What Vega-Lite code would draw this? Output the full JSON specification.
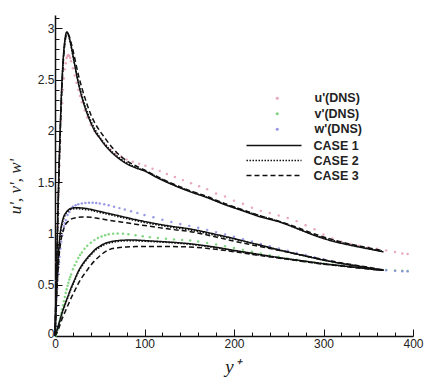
{
  "$schema": "https://vega.github.io/schema/vega-lite/v6.json",
  "width": 358,
  "height": 321,
  "autosize": "none",
  "padding": {"left": 55, "top": 15, "right": 12, "bottom": 49},
  "background": "white",
  "config": {"view": {"stroke": null}, "font": "Liberation Sans"},
  "datasets": {
    "dns": [
      {"s":"u'(DNS)","x":0.5,"y":0.18},{"s":"u'(DNS)","x":1,"y":0.36},{"s":"u'(DNS)","x":1.5,"y":0.54},{"s":"u'(DNS)","x":2,"y":0.72},{"s":"u'(DNS)","x":2.5,"y":0.9},{"s":"u'(DNS)","x":3,"y":1.07},{"s":"u'(DNS)","x":3.5,"y":1.23},{"s":"u'(DNS)","x":4,"y":1.38},{"s":"u'(DNS)","x":4.5,"y":1.53},{"s":"u'(DNS)","x":5,"y":1.66},{"s":"u'(DNS)","x":5.5,"y":1.79},{"s":"u'(DNS)","x":6,"y":1.9},{"s":"u'(DNS)","x":7,"y":2.1},{"s":"u'(DNS)","x":8,"y":2.27},{"s":"u'(DNS)","x":9,"y":2.4},{"s":"u'(DNS)","x":10,"y":2.51},{"s":"u'(DNS)","x":11,"y":2.6},{"s":"u'(DNS)","x":12,"y":2.66},{"s":"u'(DNS)","x":13,"y":2.71},{"s":"u'(DNS)","x":14,"y":2.73},{"s":"u'(DNS)","x":15,"y":2.74},{"s":"u'(DNS)","x":16,"y":2.73},{"s":"u'(DNS)","x":17,"y":2.71},{"s":"u'(DNS)","x":18,"y":2.68},{"s":"u'(DNS)","x":20,"y":2.61},{"s":"u'(DNS)","x":22,"y":2.54},{"s":"u'(DNS)","x":24,"y":2.47},{"s":"u'(DNS)","x":26,"y":2.4},{"s":"u'(DNS)","x":28,"y":2.34},{"s":"u'(DNS)","x":30,"y":2.28},{"s":"u'(DNS)","x":33,"y":2.2},{"s":"u'(DNS)","x":36,"y":2.13},{"s":"u'(DNS)","x":40,"y":2.06},{"s":"u'(DNS)","x":44,"y":2.0},{"s":"u'(DNS)","x":48,"y":1.95},{"s":"u'(DNS)","x":52,"y":1.91},{"s":"u'(DNS)","x":57,"y":1.86},{"s":"u'(DNS)","x":62,"y":1.82},{"s":"u'(DNS)","x":68,"y":1.78},{"s":"u'(DNS)","x":74,"y":1.75},{"s":"u'(DNS)","x":80,"y":1.72},{"s":"u'(DNS)","x":87,"y":1.7},{"s":"u'(DNS)","x":94,"y":1.68},{"s":"u'(DNS)","x":101,"y":1.66},{"s":"u'(DNS)","x":109,"y":1.63},{"s":"u'(DNS)","x":117,"y":1.61},{"s":"u'(DNS)","x":125,"y":1.58},{"s":"u'(DNS)","x":134,"y":1.55},{"s":"u'(DNS)","x":143,"y":1.52},{"s":"u'(DNS)","x":152,"y":1.49},{"s":"u'(DNS)","x":161,"y":1.46},{"s":"u'(DNS)","x":170,"y":1.43},{"s":"u'(DNS)","x":180,"y":1.39},{"s":"u'(DNS)","x":190,"y":1.36},{"s":"u'(DNS)","x":200,"y":1.32},{"s":"u'(DNS)","x":210,"y":1.29},{"s":"u'(DNS)","x":220,"y":1.25},{"s":"u'(DNS)","x":230,"y":1.22},{"s":"u'(DNS)","x":240,"y":1.2},{"s":"u'(DNS)","x":250,"y":1.175},{"s":"u'(DNS)","x":260,"y":1.15},{"s":"u'(DNS)","x":270,"y":1.12},{"s":"u'(DNS)","x":280,"y":1.08},{"s":"u'(DNS)","x":290,"y":1.04},{"s":"u'(DNS)","x":300,"y":0.99},{"s":"u'(DNS)","x":310,"y":0.95},{"s":"u'(DNS)","x":320,"y":0.92},{"s":"u'(DNS)","x":330,"y":0.9},{"s":"u'(DNS)","x":340,"y":0.88},{"s":"u'(DNS)","x":350,"y":0.865},{"s":"u'(DNS)","x":360,"y":0.85},{"s":"u'(DNS)","x":370,"y":0.835},{"s":"u'(DNS)","x":380,"y":0.82},{"s":"u'(DNS)","x":388,"y":0.805},{"s":"u'(DNS)","x":394,"y":0.8},
      {"s":"v'(DNS)","x":0.5,"y":0.003},{"s":"v'(DNS)","x":1,"y":0.008},{"s":"v'(DNS)","x":2,"y":0.03},{"s":"v'(DNS)","x":3,"y":0.06},{"s":"v'(DNS)","x":4,"y":0.1},{"s":"v'(DNS)","x":5,"y":0.14},{"s":"v'(DNS)","x":6,"y":0.18},{"s":"v'(DNS)","x":7,"y":0.22},{"s":"v'(DNS)","x":8,"y":0.26},{"s":"v'(DNS)","x":9,"y":0.3},{"s":"v'(DNS)","x":10,"y":0.34},{"s":"v'(DNS)","x":11,"y":0.38},{"s":"v'(DNS)","x":12,"y":0.42},{"s":"v'(DNS)","x":13,"y":0.455},{"s":"v'(DNS)","x":14,"y":0.49},{"s":"v'(DNS)","x":15,"y":0.52},{"s":"v'(DNS)","x":16,"y":0.55},{"s":"v'(DNS)","x":17,"y":0.575},{"s":"v'(DNS)","x":18,"y":0.6},{"s":"v'(DNS)","x":20,"y":0.65},{"s":"v'(DNS)","x":22,"y":0.69},{"s":"v'(DNS)","x":24,"y":0.725},{"s":"v'(DNS)","x":26,"y":0.76},{"s":"v'(DNS)","x":28,"y":0.79},{"s":"v'(DNS)","x":30,"y":0.815},{"s":"v'(DNS)","x":33,"y":0.85},{"s":"v'(DNS)","x":36,"y":0.88},{"s":"v'(DNS)","x":40,"y":0.91},{"s":"v'(DNS)","x":44,"y":0.935},{"s":"v'(DNS)","x":48,"y":0.955},{"s":"v'(DNS)","x":52,"y":0.97},{"s":"v'(DNS)","x":56,"y":0.983},{"s":"v'(DNS)","x":60,"y":0.992},{"s":"v'(DNS)","x":65,"y":0.998},{"s":"v'(DNS)","x":70,"y":1.0},{"s":"v'(DNS)","x":76,"y":0.998},{"s":"v'(DNS)","x":82,"y":0.993},{"s":"v'(DNS)","x":90,"y":0.983},{"s":"v'(DNS)","x":98,"y":0.973},{"s":"v'(DNS)","x":106,"y":0.964},{"s":"v'(DNS)","x":115,"y":0.955},{"s":"v'(DNS)","x":124,"y":0.948},{"s":"v'(DNS)","x":133,"y":0.942},{"s":"v'(DNS)","x":142,"y":0.937},{"s":"v'(DNS)","x":151,"y":0.932},{"s":"v'(DNS)","x":160,"y":0.922},{"s":"v'(DNS)","x":170,"y":0.908},{"s":"v'(DNS)","x":180,"y":0.892},{"s":"v'(DNS)","x":190,"y":0.875},{"s":"v'(DNS)","x":200,"y":0.858},{"s":"v'(DNS)","x":210,"y":0.84},{"s":"v'(DNS)","x":220,"y":0.822},{"s":"v'(DNS)","x":230,"y":0.805},{"s":"v'(DNS)","x":240,"y":0.788},{"s":"v'(DNS)","x":250,"y":0.772},{"s":"v'(DNS)","x":260,"y":0.757},{"s":"v'(DNS)","x":270,"y":0.743},{"s":"v'(DNS)","x":280,"y":0.73},{"s":"v'(DNS)","x":290,"y":0.718},{"s":"v'(DNS)","x":300,"y":0.707},{"s":"v'(DNS)","x":310,"y":0.697},{"s":"v'(DNS)","x":320,"y":0.687},{"s":"v'(DNS)","x":330,"y":0.677},{"s":"v'(DNS)","x":340,"y":0.668},{"s":"v'(DNS)","x":350,"y":0.66},{"s":"v'(DNS)","x":360,"y":0.652},{"s":"v'(DNS)","x":370,"y":0.645},{"s":"v'(DNS)","x":380,"y":0.64},{"s":"v'(DNS)","x":388,"y":0.636},{"s":"v'(DNS)","x":394,"y":0.635},
      {"s":"w'(DNS)","x":0.5,"y":0.1},{"s":"w'(DNS)","x":1,"y":0.2},{"s":"w'(DNS)","x":1.5,"y":0.29},{"s":"w'(DNS)","x":2,"y":0.38},{"s":"w'(DNS)","x":2.5,"y":0.46},{"s":"w'(DNS)","x":3,"y":0.54},{"s":"w'(DNS)","x":3.5,"y":0.61},{"s":"w'(DNS)","x":4,"y":0.67},{"s":"w'(DNS)","x":4.5,"y":0.72},{"s":"w'(DNS)","x":5,"y":0.77},{"s":"w'(DNS)","x":6,"y":0.85},{"s":"w'(DNS)","x":7,"y":0.92},{"s":"w'(DNS)","x":8,"y":0.98},{"s":"w'(DNS)","x":9,"y":1.03},{"s":"w'(DNS)","x":10,"y":1.07},{"s":"w'(DNS)","x":11,"y":1.1},{"s":"w'(DNS)","x":12,"y":1.13},{"s":"w'(DNS)","x":14,"y":1.18},{"s":"w'(DNS)","x":16,"y":1.21},{"s":"w'(DNS)","x":18,"y":1.24},{"s":"w'(DNS)","x":20,"y":1.26},{"s":"w'(DNS)","x":23,"y":1.275},{"s":"w'(DNS)","x":26,"y":1.285},{"s":"w'(DNS)","x":30,"y":1.292},{"s":"w'(DNS)","x":34,"y":1.297},{"s":"w'(DNS)","x":38,"y":1.3},{"s":"w'(DNS)","x":42,"y":1.3},{"s":"w'(DNS)","x":46,"y":1.297},{"s":"w'(DNS)","x":50,"y":1.292},{"s":"w'(DNS)","x":55,"y":1.284},{"s":"w'(DNS)","x":60,"y":1.274},{"s":"w'(DNS)","x":66,"y":1.261},{"s":"w'(DNS)","x":72,"y":1.247},{"s":"w'(DNS)","x":78,"y":1.233},{"s":"w'(DNS)","x":85,"y":1.217},{"s":"w'(DNS)","x":92,"y":1.2},{"s":"w'(DNS)","x":100,"y":1.18},{"s":"w'(DNS)","x":110,"y":1.157},{"s":"w'(DNS)","x":120,"y":1.134},{"s":"w'(DNS)","x":130,"y":1.112},{"s":"w'(DNS)","x":140,"y":1.092},{"s":"w'(DNS)","x":150,"y":1.074},{"s":"w'(DNS)","x":160,"y":1.055},{"s":"w'(DNS)","x":170,"y":1.035},{"s":"w'(DNS)","x":180,"y":1.013},{"s":"w'(DNS)","x":190,"y":0.99},{"s":"w'(DNS)","x":200,"y":0.967},{"s":"w'(DNS)","x":210,"y":0.944},{"s":"w'(DNS)","x":220,"y":0.921},{"s":"w'(DNS)","x":230,"y":0.898},{"s":"w'(DNS)","x":240,"y":0.876},{"s":"w'(DNS)","x":250,"y":0.854},{"s":"w'(DNS)","x":260,"y":0.832},{"s":"w'(DNS)","x":270,"y":0.81},{"s":"w'(DNS)","x":280,"y":0.789},{"s":"w'(DNS)","x":290,"y":0.768},{"s":"w'(DNS)","x":300,"y":0.748},{"s":"w'(DNS)","x":310,"y":0.728},{"s":"w'(DNS)","x":320,"y":0.709},{"s":"w'(DNS)","x":330,"y":0.692},{"s":"w'(DNS)","x":340,"y":0.676},{"s":"w'(DNS)","x":350,"y":0.662},{"s":"w'(DNS)","x":360,"y":0.65},{"s":"w'(DNS)","x":370,"y":0.641},{"s":"w'(DNS)","x":380,"y":0.635},{"s":"w'(DNS)","x":388,"y":0.632},{"s":"w'(DNS)","x":394,"y":0.63}
    ],
    "model": [
      {"q":"u","c":"CASE 1","x":0,"y":0},{"q":"u","c":"CASE 1","x":1,"y":0.38},{"q":"u","c":"CASE 1","x":2,"y":0.76},{"q":"u","c":"CASE 1","x":3,"y":1.13},{"q":"u","c":"CASE 1","x":4,"y":1.48},{"q":"u","c":"CASE 1","x":5,"y":1.8},{"q":"u","c":"CASE 1","x":6,"y":2.08},{"q":"u","c":"CASE 1","x":7,"y":2.32},{"q":"u","c":"CASE 1","x":8,"y":2.52},{"q":"u","c":"CASE 1","x":9,"y":2.68},{"q":"u","c":"CASE 1","x":10,"y":2.8},{"q":"u","c":"CASE 1","x":11,"y":2.88},{"q":"u","c":"CASE 1","x":12,"y":2.94},{"q":"u","c":"CASE 1","x":13,"y":2.965},{"q":"u","c":"CASE 1","x":14,"y":2.96},{"q":"u","c":"CASE 1","x":15,"y":2.94},{"q":"u","c":"CASE 1","x":16,"y":2.91},{"q":"u","c":"CASE 1","x":18,"y":2.83},{"q":"u","c":"CASE 1","x":20,"y":2.74},{"q":"u","c":"CASE 1","x":23,"y":2.6},{"q":"u","c":"CASE 1","x":26,"y":2.47},{"q":"u","c":"CASE 1","x":30,"y":2.33},{"q":"u","c":"CASE 1","x":35,"y":2.19},{"q":"u","c":"CASE 1","x":40,"y":2.08},{"q":"u","c":"CASE 1","x":45,"y":1.99},{"q":"u","c":"CASE 1","x":50,"y":1.93},{"q":"u","c":"CASE 1","x":55,"y":1.87},{"q":"u","c":"CASE 1","x":60,"y":1.82},{"q":"u","c":"CASE 1","x":70,"y":1.74},{"q":"u","c":"CASE 1","x":80,"y":1.68},{"q":"u","c":"CASE 1","x":90,"y":1.64},{"q":"u","c":"CASE 1","x":100,"y":1.61},{"q":"u","c":"CASE 1","x":115,"y":1.54},{"q":"u","c":"CASE 1","x":130,"y":1.48},{"q":"u","c":"CASE 1","x":150,"y":1.41},{"q":"u","c":"CASE 1","x":170,"y":1.35},{"q":"u","c":"CASE 1","x":190,"y":1.28},{"q":"u","c":"CASE 1","x":210,"y":1.22},{"q":"u","c":"CASE 1","x":230,"y":1.16},{"q":"u","c":"CASE 1","x":250,"y":1.115},{"q":"u","c":"CASE 1","x":270,"y":1.05},{"q":"u","c":"CASE 1","x":290,"y":0.98},{"q":"u","c":"CASE 1","x":310,"y":0.925},{"q":"u","c":"CASE 1","x":330,"y":0.885},{"q":"u","c":"CASE 1","x":350,"y":0.85},{"q":"u","c":"CASE 1","x":367,"y":0.82},
      {"q":"u","c":"CASE 2","x":0,"y":0},{"q":"u","c":"CASE 2","x":1,"y":0.37},{"q":"u","c":"CASE 2","x":2,"y":0.74},{"q":"u","c":"CASE 2","x":3,"y":1.1},{"q":"u","c":"CASE 2","x":4,"y":1.45},{"q":"u","c":"CASE 2","x":5,"y":1.77},{"q":"u","c":"CASE 2","x":6,"y":2.05},{"q":"u","c":"CASE 2","x":7,"y":2.3},{"q":"u","c":"CASE 2","x":8,"y":2.5},{"q":"u","c":"CASE 2","x":9,"y":2.66},{"q":"u","c":"CASE 2","x":10,"y":2.78},{"q":"u","c":"CASE 2","x":11,"y":2.87},{"q":"u","c":"CASE 2","x":12,"y":2.93},{"q":"u","c":"CASE 2","x":13,"y":2.95},{"q":"u","c":"CASE 2","x":14,"y":2.95},{"q":"u","c":"CASE 2","x":15,"y":2.93},{"q":"u","c":"CASE 2","x":16,"y":2.9},{"q":"u","c":"CASE 2","x":18,"y":2.82},{"q":"u","c":"CASE 2","x":20,"y":2.73},{"q":"u","c":"CASE 2","x":23,"y":2.6},{"q":"u","c":"CASE 2","x":26,"y":2.48},{"q":"u","c":"CASE 2","x":30,"y":2.35},{"q":"u","c":"CASE 2","x":35,"y":2.21},{"q":"u","c":"CASE 2","x":40,"y":2.1},{"q":"u","c":"CASE 2","x":45,"y":2.01},{"q":"u","c":"CASE 2","x":50,"y":1.94},{"q":"u","c":"CASE 2","x":60,"y":1.83},{"q":"u","c":"CASE 2","x":70,"y":1.75},{"q":"u","c":"CASE 2","x":80,"y":1.69},{"q":"u","c":"CASE 2","x":90,"y":1.645},{"q":"u","c":"CASE 2","x":100,"y":1.61},{"q":"u","c":"CASE 2","x":130,"y":1.485},{"q":"u","c":"CASE 2","x":170,"y":1.35},{"q":"u","c":"CASE 2","x":210,"y":1.225},{"q":"u","c":"CASE 2","x":250,"y":1.115},{"q":"u","c":"CASE 2","x":290,"y":0.985},{"q":"u","c":"CASE 2","x":330,"y":0.89},{"q":"u","c":"CASE 2","x":367,"y":0.825},
      {"q":"u","c":"CASE 3","x":0,"y":0},{"q":"u","c":"CASE 3","x":1,"y":0.36},{"q":"u","c":"CASE 3","x":2,"y":0.72},{"q":"u","c":"CASE 3","x":3,"y":1.07},{"q":"u","c":"CASE 3","x":4,"y":1.41},{"q":"u","c":"CASE 3","x":5,"y":1.72},{"q":"u","c":"CASE 3","x":6,"y":2.0},{"q":"u","c":"CASE 3","x":7,"y":2.25},{"q":"u","c":"CASE 3","x":8,"y":2.46},{"q":"u","c":"CASE 3","x":9,"y":2.63},{"q":"u","c":"CASE 3","x":10,"y":2.76},{"q":"u","c":"CASE 3","x":11,"y":2.85},{"q":"u","c":"CASE 3","x":12,"y":2.91},{"q":"u","c":"CASE 3","x":13,"y":2.94},{"q":"u","c":"CASE 3","x":14,"y":2.95},{"q":"u","c":"CASE 3","x":15,"y":2.94},{"q":"u","c":"CASE 3","x":16,"y":2.92},{"q":"u","c":"CASE 3","x":18,"y":2.86},{"q":"u","c":"CASE 3","x":20,"y":2.79},{"q":"u","c":"CASE 3","x":23,"y":2.67},{"q":"u","c":"CASE 3","x":26,"y":2.55},{"q":"u","c":"CASE 3","x":30,"y":2.42},{"q":"u","c":"CASE 3","x":35,"y":2.28},{"q":"u","c":"CASE 3","x":40,"y":2.16},{"q":"u","c":"CASE 3","x":45,"y":2.07},{"q":"u","c":"CASE 3","x":50,"y":2.0},{"q":"u","c":"CASE 3","x":55,"y":1.94},{"q":"u","c":"CASE 3","x":60,"y":1.88},{"q":"u","c":"CASE 3","x":70,"y":1.78},{"q":"u","c":"CASE 3","x":80,"y":1.71},{"q":"u","c":"CASE 3","x":90,"y":1.66},{"q":"u","c":"CASE 3","x":100,"y":1.62},{"q":"u","c":"CASE 3","x":115,"y":1.55},{"q":"u","c":"CASE 3","x":130,"y":1.49},{"q":"u","c":"CASE 3","x":150,"y":1.42},{"q":"u","c":"CASE 3","x":170,"y":1.36},{"q":"u","c":"CASE 3","x":190,"y":1.29},{"q":"u","c":"CASE 3","x":210,"y":1.23},{"q":"u","c":"CASE 3","x":230,"y":1.17},{"q":"u","c":"CASE 3","x":250,"y":1.12},{"q":"u","c":"CASE 3","x":270,"y":1.06},{"q":"u","c":"CASE 3","x":290,"y":0.995},{"q":"u","c":"CASE 3","x":310,"y":0.94},{"q":"u","c":"CASE 3","x":330,"y":0.895},{"q":"u","c":"CASE 3","x":350,"y":0.86},{"q":"u","c":"CASE 3","x":367,"y":0.83},
      {"q":"w","c":"CASE 1","x":0,"y":0},{"q":"w","c":"CASE 1","x":1,"y":0.25},{"q":"w","c":"CASE 1","x":2,"y":0.48},{"q":"w","c":"CASE 1","x":3,"y":0.67},{"q":"w","c":"CASE 1","x":4,"y":0.82},{"q":"w","c":"CASE 1","x":5,"y":0.93},{"q":"w","c":"CASE 1","x":6,"y":1.01},{"q":"w","c":"CASE 1","x":7,"y":1.07},{"q":"w","c":"CASE 1","x":8,"y":1.11},{"q":"w","c":"CASE 1","x":10,"y":1.17},{"q":"w","c":"CASE 1","x":12,"y":1.2},{"q":"w","c":"CASE 1","x":15,"y":1.23},{"q":"w","c":"CASE 1","x":18,"y":1.245},{"q":"w","c":"CASE 1","x":22,"y":1.25},{"q":"w","c":"CASE 1","x":26,"y":1.25},{"q":"w","c":"CASE 1","x":30,"y":1.248},{"q":"w","c":"CASE 1","x":35,"y":1.243},{"q":"w","c":"CASE 1","x":40,"y":1.235},{"q":"w","c":"CASE 1","x":50,"y":1.215},{"q":"w","c":"CASE 1","x":60,"y":1.195},{"q":"w","c":"CASE 1","x":75,"y":1.165},{"q":"w","c":"CASE 1","x":90,"y":1.135},{"q":"w","c":"CASE 1","x":110,"y":1.1},{"q":"w","c":"CASE 1","x":130,"y":1.07},{"q":"w","c":"CASE 1","x":150,"y":1.045},{"q":"w","c":"CASE 1","x":175,"y":1.0},{"q":"w","c":"CASE 1","x":200,"y":0.95},{"q":"w","c":"CASE 1","x":225,"y":0.895},{"q":"w","c":"CASE 1","x":250,"y":0.84},{"q":"w","c":"CASE 1","x":275,"y":0.79},{"q":"w","c":"CASE 1","x":300,"y":0.74},{"q":"w","c":"CASE 1","x":325,"y":0.7},{"q":"w","c":"CASE 1","x":350,"y":0.665},{"q":"w","c":"CASE 1","x":367,"y":0.64},
      {"q":"w","c":"CASE 2","x":0,"y":0},{"q":"w","c":"CASE 2","x":1,"y":0.24},{"q":"w","c":"CASE 2","x":2,"y":0.46},{"q":"w","c":"CASE 2","x":3,"y":0.65},{"q":"w","c":"CASE 2","x":4,"y":0.8},{"q":"w","c":"CASE 2","x":5,"y":0.91},{"q":"w","c":"CASE 2","x":6,"y":0.99},{"q":"w","c":"CASE 2","x":7,"y":1.05},{"q":"w","c":"CASE 2","x":8,"y":1.09},{"q":"w","c":"CASE 2","x":10,"y":1.15},{"q":"w","c":"CASE 2","x":12,"y":1.19},{"q":"w","c":"CASE 2","x":15,"y":1.22},{"q":"w","c":"CASE 2","x":18,"y":1.235},{"q":"w","c":"CASE 2","x":22,"y":1.24},{"q":"w","c":"CASE 2","x":26,"y":1.24},{"q":"w","c":"CASE 2","x":30,"y":1.237},{"q":"w","c":"CASE 2","x":40,"y":1.225},{"q":"w","c":"CASE 2","x":50,"y":1.205},{"q":"w","c":"CASE 2","x":60,"y":1.185},{"q":"w","c":"CASE 2","x":75,"y":1.155},{"q":"w","c":"CASE 2","x":90,"y":1.125},{"q":"w","c":"CASE 2","x":110,"y":1.09},{"q":"w","c":"CASE 2","x":130,"y":1.06},{"q":"w","c":"CASE 2","x":150,"y":1.035},{"q":"w","c":"CASE 2","x":175,"y":0.99},{"q":"w","c":"CASE 2","x":200,"y":0.945},{"q":"w","c":"CASE 2","x":250,"y":0.84},{"q":"w","c":"CASE 2","x":300,"y":0.74},{"q":"w","c":"CASE 2","x":350,"y":0.665},{"q":"w","c":"CASE 2","x":367,"y":0.64},
      {"q":"w","c":"CASE 3","x":0,"y":0},{"q":"w","c":"CASE 3","x":1,"y":0.22},{"q":"w","c":"CASE 3","x":2,"y":0.42},{"q":"w","c":"CASE 3","x":3,"y":0.59},{"q":"w","c":"CASE 3","x":4,"y":0.72},{"q":"w","c":"CASE 3","x":5,"y":0.82},{"q":"w","c":"CASE 3","x":6,"y":0.89},{"q":"w","c":"CASE 3","x":7,"y":0.95},{"q":"w","c":"CASE 3","x":8,"y":0.99},{"q":"w","c":"CASE 3","x":10,"y":1.05},{"q":"w","c":"CASE 3","x":12,"y":1.09},{"q":"w","c":"CASE 3","x":15,"y":1.12},{"q":"w","c":"CASE 3","x":18,"y":1.14},{"q":"w","c":"CASE 3","x":22,"y":1.15},{"q":"w","c":"CASE 3","x":26,"y":1.157},{"q":"w","c":"CASE 3","x":30,"y":1.16},{"q":"w","c":"CASE 3","x":35,"y":1.16},{"q":"w","c":"CASE 3","x":40,"y":1.158},{"q":"w","c":"CASE 3","x":50,"y":1.145},{"q":"w","c":"CASE 3","x":60,"y":1.13},{"q":"w","c":"CASE 3","x":75,"y":1.11},{"q":"w","c":"CASE 3","x":90,"y":1.09},{"q":"w","c":"CASE 3","x":110,"y":1.065},{"q":"w","c":"CASE 3","x":130,"y":1.04},{"q":"w","c":"CASE 3","x":150,"y":1.02},{"q":"w","c":"CASE 3","x":175,"y":0.975},{"q":"w","c":"CASE 3","x":200,"y":0.925},{"q":"w","c":"CASE 3","x":225,"y":0.88},{"q":"w","c":"CASE 3","x":250,"y":0.835},{"q":"w","c":"CASE 3","x":275,"y":0.79},{"q":"w","c":"CASE 3","x":300,"y":0.745},{"q":"w","c":"CASE 3","x":325,"y":0.705},{"q":"w","c":"CASE 3","x":350,"y":0.67},{"q":"w","c":"CASE 3","x":367,"y":0.645},
      {"q":"v","c":"CASE 1","x":0,"y":0},{"q":"v","c":"CASE 1","x":2,"y":0.05},{"q":"v","c":"CASE 1","x":4,"y":0.11},{"q":"v","c":"CASE 1","x":6,"y":0.17},{"q":"v","c":"CASE 1","x":8,"y":0.23},{"q":"v","c":"CASE 1","x":10,"y":0.28},{"q":"v","c":"CASE 1","x":12,"y":0.33},{"q":"v","c":"CASE 1","x":15,"y":0.4},{"q":"v","c":"CASE 1","x":18,"y":0.47},{"q":"v","c":"CASE 1","x":22,"y":0.55},{"q":"v","c":"CASE 1","x":26,"y":0.63},{"q":"v","c":"CASE 1","x":30,"y":0.69},{"q":"v","c":"CASE 1","x":35,"y":0.75},{"q":"v","c":"CASE 1","x":40,"y":0.8},{"q":"v","c":"CASE 1","x":45,"y":0.845},{"q":"v","c":"CASE 1","x":50,"y":0.875},{"q":"v","c":"CASE 1","x":55,"y":0.9},{"q":"v","c":"CASE 1","x":60,"y":0.915},{"q":"v","c":"CASE 1","x":70,"y":0.93},{"q":"v","c":"CASE 1","x":80,"y":0.935},{"q":"v","c":"CASE 1","x":90,"y":0.935},{"q":"v","c":"CASE 1","x":100,"y":0.93},{"q":"v","c":"CASE 1","x":120,"y":0.92},{"q":"v","c":"CASE 1","x":150,"y":0.9},{"q":"v","c":"CASE 1","x":180,"y":0.865},{"q":"v","c":"CASE 1","x":200,"y":0.835},{"q":"v","c":"CASE 1","x":225,"y":0.8},{"q":"v","c":"CASE 1","x":250,"y":0.765},{"q":"v","c":"CASE 1","x":275,"y":0.735},{"q":"v","c":"CASE 1","x":300,"y":0.705},{"q":"v","c":"CASE 1","x":325,"y":0.68},{"q":"v","c":"CASE 1","x":350,"y":0.655},{"q":"v","c":"CASE 1","x":367,"y":0.64},
      {"q":"v","c":"CASE 2","x":0,"y":0},{"q":"v","c":"CASE 2","x":2,"y":0.05},{"q":"v","c":"CASE 2","x":4,"y":0.1},{"q":"v","c":"CASE 2","x":6,"y":0.16},{"q":"v","c":"CASE 2","x":8,"y":0.22},{"q":"v","c":"CASE 2","x":10,"y":0.27},{"q":"v","c":"CASE 2","x":12,"y":0.32},{"q":"v","c":"CASE 2","x":15,"y":0.39},{"q":"v","c":"CASE 2","x":18,"y":0.46},{"q":"v","c":"CASE 2","x":22,"y":0.54},{"q":"v","c":"CASE 2","x":26,"y":0.62},{"q":"v","c":"CASE 2","x":30,"y":0.68},{"q":"v","c":"CASE 2","x":35,"y":0.74},{"q":"v","c":"CASE 2","x":40,"y":0.79},{"q":"v","c":"CASE 2","x":45,"y":0.835},{"q":"v","c":"CASE 2","x":50,"y":0.865},{"q":"v","c":"CASE 2","x":55,"y":0.89},{"q":"v","c":"CASE 2","x":60,"y":0.905},{"q":"v","c":"CASE 2","x":70,"y":0.922},{"q":"v","c":"CASE 2","x":80,"y":0.928},{"q":"v","c":"CASE 2","x":90,"y":0.928},{"q":"v","c":"CASE 2","x":100,"y":0.924},{"q":"v","c":"CASE 2","x":120,"y":0.915},{"q":"v","c":"CASE 2","x":150,"y":0.895},{"q":"v","c":"CASE 2","x":180,"y":0.86},{"q":"v","c":"CASE 2","x":200,"y":0.83},{"q":"v","c":"CASE 2","x":250,"y":0.762},{"q":"v","c":"CASE 2","x":300,"y":0.703},{"q":"v","c":"CASE 2","x":350,"y":0.655},{"q":"v","c":"CASE 2","x":367,"y":0.64},
      {"q":"v","c":"CASE 3","x":0,"y":0},{"q":"v","c":"CASE 3","x":2,"y":0.03},{"q":"v","c":"CASE 3","x":4,"y":0.07},{"q":"v","c":"CASE 3","x":6,"y":0.12},{"q":"v","c":"CASE 3","x":8,"y":0.17},{"q":"v","c":"CASE 3","x":10,"y":0.21},{"q":"v","c":"CASE 3","x":12,"y":0.25},{"q":"v","c":"CASE 3","x":15,"y":0.31},{"q":"v","c":"CASE 3","x":18,"y":0.37},{"q":"v","c":"CASE 3","x":22,"y":0.44},{"q":"v","c":"CASE 3","x":26,"y":0.51},{"q":"v","c":"CASE 3","x":30,"y":0.57},{"q":"v","c":"CASE 3","x":35,"y":0.63},{"q":"v","c":"CASE 3","x":40,"y":0.69},{"q":"v","c":"CASE 3","x":45,"y":0.74},{"q":"v","c":"CASE 3","x":50,"y":0.78},{"q":"v","c":"CASE 3","x":55,"y":0.815},{"q":"v","c":"CASE 3","x":60,"y":0.84},{"q":"v","c":"CASE 3","x":70,"y":0.86},{"q":"v","c":"CASE 3","x":80,"y":0.868},{"q":"v","c":"CASE 3","x":90,"y":0.872},{"q":"v","c":"CASE 3","x":100,"y":0.873},{"q":"v","c":"CASE 3","x":120,"y":0.873},{"q":"v","c":"CASE 3","x":150,"y":0.868},{"q":"v","c":"CASE 3","x":180,"y":0.845},{"q":"v","c":"CASE 3","x":200,"y":0.822},{"q":"v","c":"CASE 3","x":225,"y":0.79},{"q":"v","c":"CASE 3","x":250,"y":0.76},{"q":"v","c":"CASE 3","x":275,"y":0.73},{"q":"v","c":"CASE 3","x":300,"y":0.7},{"q":"v","c":"CASE 3","x":325,"y":0.678},{"q":"v","c":"CASE 3","x":350,"y":0.655},{"q":"v","c":"CASE 3","x":367,"y":0.64}
    ]
  },
  "encoding": {
    "x": {
      "field": "x", "type": "quantitative",
      "scale": {"domain": [0, 400], "nice": false, "zero": false},
      "axis": {
        "values": [0,20,40,60,80,100,120,140,160,180,200,220,240,260,280,300,320,340,360,380,400],
        "labelExpr": "datum.value % 100 === 0 ? datum.label : ''",
        "tickSize": {"condition": {"test": "datum.value % 100 === 0", "value": -7}, "value": -4},
        "tickColor": "#111", "tickWidth": 1,
        "domainColor": "#111", "domainWidth": 1.5,
        "grid": false,
        "labelFont": "Liberation Sans", "labelFontSize": 12, "labelColor": "#222", "labelPadding": 9,
        "labelFlush": false,
        "title": "y⁺", "titleFont": "Liberation Serif", "titleFontStyle": "italic", "titleFontWeight": "normal",
        "titleFontSize": 19, "titleColor": "#222", "titleX": 177, "titleY": 30, "titleBaseline": "middle"
      }
    },
    "y": {
      "field": "y", "type": "quantitative",
      "scale": {"domain": [0, 3.13], "nice": false, "zero": false},
      "axis": {
        "values": [0,0.1,0.2,0.3,0.4,0.5,0.6,0.7,0.8,0.9,1,1.1,1.2,1.3,1.4,1.5,1.6,1.7,1.8,1.9,2,2.1,2.2,2.3,2.4,2.5,2.6,2.7,2.8,2.9,3,3.1],
        "labelExpr": "abs(datum.value*2 - round(datum.value*2)) < 0.001 ? '' + round(datum.value*2)/2 : ''",
        "tickSize": {"condition": {"test": "abs(datum.value*2 - round(datum.value*2)) < 0.001", "value": -7}, "value": -4},
        "labelOffset": {"condition": {"test": "datum.value === 0", "value": -3}, "value": 0},
        "tickColor": "#111", "tickWidth": 1,
        "domainColor": "#111", "domainWidth": 1.5,
        "grid": false,
        "labelFont": "Liberation Sans", "labelFontSize": 12, "labelColor": "#222", "labelPadding": 8,
        "labelFlush": false,
        "title": "u', v', w'", "titleFont": "Liberation Serif", "titleFontStyle": "italic", "titleFontWeight": "normal",
        "titleFontSize": 17, "titleColor": "#222", "titleX": -40, "titleY": 171, "titleAngle": -90, "titleBaseline": "middle"
      }
    }
  },
  "layer": [
    {
      "data": {"name": "dns"},
      "mark": {"type": "point", "filled": true, "size": 6, "opacity": 0.85},
      "encoding": {
        "color": {
          "field": "s", "type": "nominal",
          "scale": {"domain": ["u'(DNS)", "v'(DNS)", "w'(DNS)"], "range": ["#e49aae", "#6ccf6c", "#8787e4"]},
          "legend": {
            "orient": "none", "legendX": 216, "legendY": 77, "title": null, "padding": 0,
            "symbolType": "circle", "symbolSize": 10, "labelOffset": 31, "rowPadding": 2.5,
            "labelFont": "Liberation Sans", "labelFontWeight": "bold", "labelFontSize": 12.5, "labelColor": "#222"
          }
        }
      }
    },
    {
      "data": {"name": "model"},
      "mark": {"type": "line", "color": "#111", "strokeWidth": 1.5, "interpolate": "monotone"},
      "encoding": {
        "detail": {"field": "q", "type": "nominal"},
        "strokeDash": {
          "field": "c", "type": "nominal",
          "scale": {"domain": ["CASE 1", "CASE 2", "CASE 3"], "range": [[1, 0], [1.5, 1.5], [5, 3]]},
          "legend": {
            "orient": "none", "legendX": 210.5, "legendY": 122, "title": null, "padding": 0,
            "symbolType": "M-3.67,0H3.67", "symbolSize": 225, "symbolStrokeWidth": 1.5, "symbolStrokeColor": "#111",
            "labelOffset": 31, "rowPadding": 0,
            "labelFont": "Liberation Sans", "labelFontWeight": "bold", "labelFontSize": 12.5, "labelColor": "#222"
          }
        }
      }
    }
  ]
}
